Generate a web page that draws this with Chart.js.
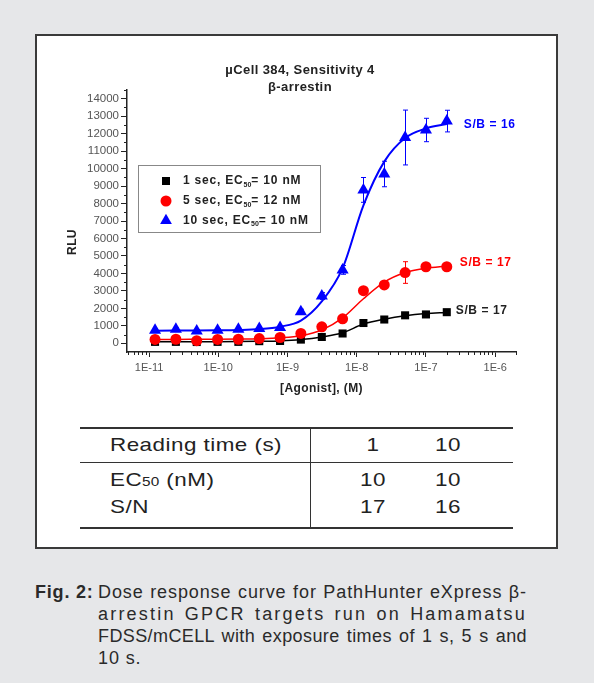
<!DOCTYPE html>
<html>
<head>
<meta charset="utf-8">
<script src="https://cdn.jsdelivr.net/npm/chart.js@4.4.0/dist/chart.umd.min.js"></script>
<style>
body{margin:0;background:#e6e7e9;width:594px;height:683px;position:relative;overflow:hidden;font-family:"Liberation Sans",Arial,sans-serif;color:#222;}
#box{position:absolute;left:35px;top:34px;width:519px;height:511px;border:2px solid #3a3a3a;background:#fff;}
#c{position:absolute;left:0;top:0;}
.ln{position:absolute;background:#333;}
.tx{position:absolute;font-size:19px;line-height:22px;letter-spacing:0.4px;white-space:nowrap;transform:scaleX(1.18);transform-origin:left center;}
.num{text-align:center;width:60px;transform-origin:center center;}
.small{font-size:13px;letter-spacing:0.2px;}
.cap{position:absolute;font-size:18px;line-height:22px;color:#2a2a2a;white-space:nowrap;letter-spacing:0.9px;}
.cl{left:98px;width:429px;text-align:justify;text-align-last:justify;white-space:normal;}
</style>
</head>
<body>
<div id="box"></div>
<canvas id="c" width="594" height="420"></canvas>

<div class="ln" style="left:80px;top:427px;width:433px;height:2px"></div>
<div class="ln" style="left:80px;top:462px;width:433px;height:1px"></div>
<div class="ln" style="left:80px;top:527px;width:433px;height:2px"></div>
<div class="ln" style="left:310px;top:428px;width:1px;height:100px"></div>

<div class="tx" style="left:110px;top:434px">Reading time (s)</div>
<div class="tx num" style="left:343px;top:434px">1</div>
<div class="tx num" style="left:418px;top:434px">10</div>
<div class="tx" style="left:110px;top:469px">EC<span class="small">50</span> (nM)</div>
<div class="tx num" style="left:343px;top:469px">10</div>
<div class="tx num" style="left:418px;top:469px">10</div>
<div class="tx" style="left:110px;top:496px">S/N</div>
<div class="tx num" style="left:343px;top:496px">17</div>
<div class="tx num" style="left:418px;top:496px">16</div>

<div class="cap" style="left:35px;top:581px;font-weight:bold;letter-spacing:0.8px">Fig. 2:</div>
<div class="cap cl" style="top:581px">Dose response curve for PathHunter eXpress β-</div>
<div class="cap cl" style="top:603px;letter-spacing:2.2px">arrestin GPCR targets run on Hamamatsu</div>
<div class="cap cl" style="top:625px;letter-spacing:0.4px">FDSS/mCELL with exposure times of 1 s, 5 s and</div>
<div class="cap" style="left:98px;top:647px">10 s.</div>

<script>
// agonist concentrations (M), 2-fold dilutions
var conc = [1.22e-11, 2.44e-11, 4.88e-11, 9.77e-11, 1.95e-10, 3.91e-10, 7.81e-10, 1.56e-9, 3.13e-9, 6.25e-9, 1.25e-8, 2.5e-8, 5e-8, 1e-7, 2e-7];

// 1 sec
var sec1 = [80, 80, 70, 80, 80, 120, 130, 210, 360, 560, 1160, 1360, 1600, 1650, 1780];
var sec1Err = [30, 30, 30, 30, 30, 30, 30, 40, 40, 50, 60, 60, 80, 80, 80];
var sec1Fit = [80, 80, 80, 85, 95, 110, 135, 210, 360, 600, 1100, 1380, 1580, 1700, 1760];

// 5 sec
var sec5 = [220, 230, 150, 220, 230, 270, 330, 560, 940, 1400, 3010, 3340, 4050, 4380, 4380];
var sec5Err = [50, 50, 50, 50, 50, 50, 50, 60, 80, 100, 150, 150, 620, 150, 150];
var sec5Fit = [220, 220, 225, 230, 240, 260, 310, 430, 760, 1450, 2550, 3500, 4050, 4300, 4420];

// 10 sec
var sec10 = [750, 800, 700, 750, 800, 850, 900, 1800, 2700, 4200, 8780, 9690, 11780, 12210, 12720];
var sec10Err = [80, 80, 80, 80, 80, 80, 80, 150, 200, 250, 710, 730, 1570, 670, 620];
var sec10Fit = [720, 725, 730, 740, 760, 810, 950, 1300, 2400, 4300, 7900, 10400, 11750, 12300, 12550];

var yTicks = [0, 1000, 2000, 3000, 4000, 5000, 6000, 7000, 8000, 9000, 10000, 11000, 12000, 13000, 14000];
var xTicks = [1e-11, 1e-10, 1e-9, 1e-8, 1e-7, 1e-6];
var xTickLabels = ['1E-11', '1E-10', '1E-9', '1E-8', '1E-7', '1E-6'];

var legendText = [['1 sec, EC', '50', '= 10 nM'], ['5 sec, EC', '50', '= 12 nM'], ['10 sec, EC', '50', '= 10 nM']];
var sbText = ['S/B = 17', 'S/B = 17', 'S/B = 16'];
var colors = ['#000000', '#ff0000', '#0000ff'];
var shapes = ['rect', 'circle', 'triangle'];

var FONT = '"Liberation Sans", Arial, sans-serif';

function pts(vals) {
    var out = [];
    for (var i = 0; i < conc.length; i++) out.push({x: conc[i], y: vals[i]});
    return out;
}

var values = [sec1, sec5, sec10];
var errs = [sec1Err, sec5Err, sec10Err];

function marker(ctx, shape, x, y, color) {
    ctx.fillStyle = color;
    ctx.beginPath();
    if (shape == 'rect') {
        ctx.rect(x - 4, y - 4, 8, 8);
    } else if (shape == 'circle') {
        ctx.arc(x, y, 5.5, 0, Math.PI * 2);
    } else {
        ctx.moveTo(x, y - 6.8);
        ctx.lineTo(x + 5.9, y + 3.4);
        ctx.lineTo(x - 5.9, y + 3.4);
        ctx.closePath();
    }
    ctx.fill();
}

var decor = {
    id: 'decor',
    beforeDatasetsDraw: function(chart) {
        var ctx = chart.ctx, xs = chart.scales.x, ys = chart.scales.y;
        ctx.save();
        ctx.lineWidth = 1;
        for (var s = 0; s < 3; s++) {
            ctx.strokeStyle = colors[s];
            for (var i = 0; i < conc.length; i++) {
                var px = Math.round(xs.getPixelForValue(conc[i])) + 0.5;
                var top = ys.getPixelForValue(values[s][i] + errs[s][i]);
                var bot = ys.getPixelForValue(values[s][i] - errs[s][i]);
                ctx.beginPath();
                ctx.moveTo(px, top); ctx.lineTo(px, bot);
                ctx.moveTo(px - 2.5, top); ctx.lineTo(px + 2.5, top);
                ctx.moveTo(px - 2.5, bot); ctx.lineTo(px + 2.5, bot);
                ctx.stroke();
            }
        }
        ctx.restore();
    },
    afterDraw: function(chart) {
        var ctx = chart.ctx, xs = chart.scales.x, ys = chart.scales.y;
        var area = chart.chartArea;
        ctx.save();
        // minor ticks
        ctx.strokeStyle = '#222';
        ctx.lineWidth = 1;
        ctx.beginPath();
        for (var v = 500; v <= 14500; v += 1000) {
            var py = Math.round(ys.getPixelForValue(v)) + 0.5;
            ctx.moveTo(area.left - 3, py); ctx.lineTo(area.left, py);
        }
        for (var n = -12; n <= -6; n++) {
            for (var k = 2; k <= 9; k++) {
                var xv = k * Math.pow(10, n);
                if (xv < xs.min || xv > xs.max) continue;
                var px = Math.round(xs.getPixelForValue(xv)) + 0.5;
                ctx.moveTo(px, area.bottom); ctx.lineTo(px, area.bottom + 3);
            }
        }
        ctx.stroke();

        // title
        ctx.fillStyle = '#222';
        ctx.textAlign = 'center';
        ctx.textBaseline = 'middle';
        ctx.font = 'bold 13px ' + FONT;
        ctx.letterSpacing = '0.4px';
        ctx.fillText('\u00b5Cell 384, Sensitivity 4', 300, 70);
        ctx.fillText('\u03b2-arrestin', 300, 87);

        // axis titles
        ctx.font = 'bold 12px ' + FONT;
        ctx.fillText('[Agonist], (M)', (area.left + area.right) / 2, 389);
        ctx.save();
        ctx.translate(73, 242);
        ctx.rotate(-Math.PI / 2);
        ctx.fillText('RLU', 0, 0);
        ctx.restore();

        // S/B labels next to the last point of each series
        var sbDx = [9, 13, 17], sbDy = [-1, -4, 4];
        ctx.textAlign = 'left';
        ctx.letterSpacing = '0.6px';
        var last = conc.length - 1;
        for (var s = 0; s < 3; s++) {
            ctx.fillStyle = s == 0 ? '#222' : colors[s];
            var lx = xs.getPixelForValue(conc[last]) + sbDx[s];
            var ly = ys.getPixelForValue(values[s][last]) + sbDy[s];
            ctx.fillText(sbText[s], lx, ly);
        }

        // legend
        ctx.strokeStyle = '#888';
        ctx.lineWidth = 1;
        ctx.strokeRect(138.5, 165.5, 182, 67);
        var rowY = [181, 201, 220.5];
        for (var s = 0; s < 3; s++) {
            marker(ctx, shapes[s], 166, rowY[s], colors[s]);
            ctx.fillStyle = '#222';
            ctx.font = 'bold 12px ' + FONT;
            ctx.letterSpacing = '0.8px';
            var tx = 183;
            ctx.fillText(legendText[s][0], tx, rowY[s]);
            tx += ctx.measureText(legendText[s][0]).width;
            ctx.font = 'bold 7px ' + FONT;
            ctx.letterSpacing = '0px';
            ctx.fillText(legendText[s][1], tx, rowY[s] + 4);
            tx += ctx.measureText(legendText[s][1]).width;
            ctx.font = 'bold 12px ' + FONT;
            ctx.letterSpacing = '0.8px';
            ctx.fillText(legendText[s][2], tx, rowY[s]);
        }
        ctx.restore();
    }
};

var datasets = [];
for (var s = 2; s >= 0; s--) {
    datasets.push({
        type: 'scatter',
        data: pts(values[s]),
        pointStyle: shapes[s],
        pointRadius: [5.7, 5.5, 7][s],
        pointBackgroundColor: colors[s],
        pointBorderColor: colors[s],
        pointBorderWidth: 0
    });
}
var fits = [sec1Fit, sec5Fit, sec10Fit];
for (var s = 2; s >= 0; s--) {
    datasets.push({
        type: 'line',
        data: pts(fits[s]),
        borderColor: colors[s],
        borderWidth: s == 2 ? 2 : 1.5,
        pointRadius: 0,
        fill: false,
        cubicInterpolationMode: 'monotone'
    });
}

var ctx = document.getElementById('c');
var chart = new Chart(ctx, {
    type: 'scatter',
    data: {datasets: datasets},
    options: {
        responsive: false,
        animation: false,
        layout: {padding: {left: 0, top: 90, right: 78, bottom: 0}},
        plugins: {legend: {display: false}, tooltip: {enabled: false}},
        scales: {
            x: {
                type: 'logarithmic',
                min: 4.8e-12,
                max: 2e-6,
                afterBuildTicks: function(scale) {
                    scale.ticks = xTicks.map(function(v) { return {value: v}; });
                },
                afterFit: function(scale) { scale.height = 68; },
                grid: {drawOnChartArea: false, tickLength: 5, tickColor: '#222'},
                border: {color: '#222', width: 1.5},
                ticks: {
                    font: {size: 11, family: FONT},
                    color: '#555',
                    padding: 4,
                    maxRotation: 0,
                    autoSkip: false,
                    callback: function(v, i) { return xTickLabels[i]; }
                }
            },
            y: {
                min: -500,
                max: 14500,
                afterBuildTicks: function(scale) {
                    scale.ticks = yTicks.map(function(v) { return {value: v}; });
                },
                afterFit: function(scale) { scale.width = 127; },
                grid: {drawOnChartArea: false, tickLength: 6, tickColor: '#222'},
                border: {color: '#222', width: 1.5},
                ticks: {
                    font: {size: 11.5, family: FONT},
                    color: '#555',
                    padding: 2,
                    autoSkip: false,
                    callback: function(v) { return String(v); }
                }
            }
        }
    },
    plugins: [decor]
});
</script>
</body>
</html>
